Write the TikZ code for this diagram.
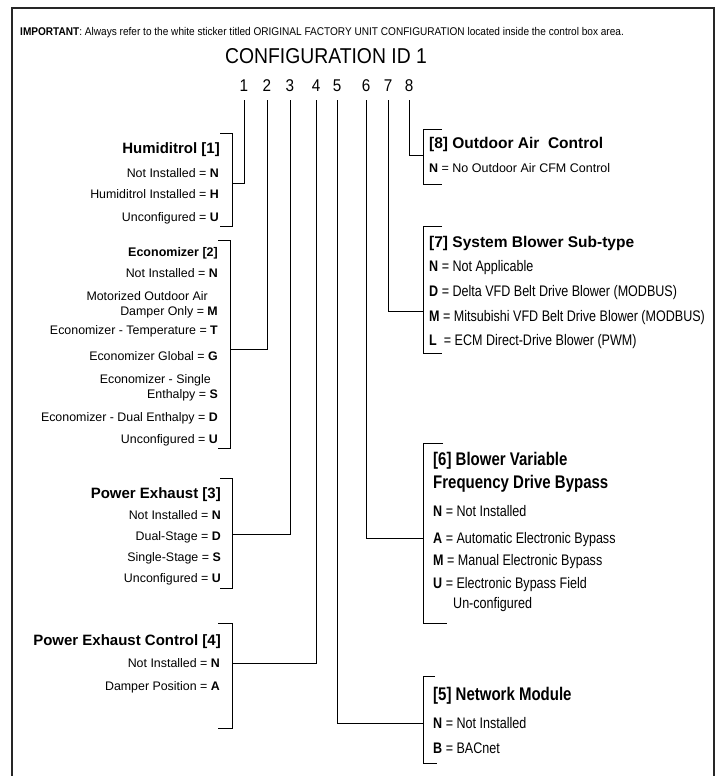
\documentclass[tikz,border=0pt]{standalone}
\usepackage{fontspec}
\setmainfont{Liberation Sans}
\newfontfamily\narrowfont[FakeStretch=0.82]{Liberation Sans}
\newfontfamily\titlefont[FakeStretch=0.9]{Liberation Sans}
\newcommand\fsz[1]{\fontsize{#1}{#1}\selectfont}
\tikzset{
 base/.style={inner sep=0pt, text depth=0pt},
 litem/.style={base, anchor=east, font=\fsz{12.4}, text height=8.9pt},
 lhead/.style={base, anchor=east, font=\bfseries\fsz{15}, text height=10.7pt},
 ehead/.style={base, anchor=east, font=\bfseries\fsz{12.5}, text height=9pt},
 rhead/.style={base, anchor=west, font=\bfseries\fsz{15.5}, text height=11.1pt},
 ritem/.style={base, anchor=west, font=\fsz{12.5}, text height=9pt},
 nitem/.style={base, anchor=west, font=\narrowfont\fsz{15.3}, text height=11pt},
 nhead/.style={base, anchor=west, font=\narrowfont\bfseries\fsz{18.3}, text height=13.1pt},
 digit/.style={base, anchor=south, font=\titlefont\fsz{17}},
 conn/.style={draw=black, line width=1pt},
 brk/.style={draw=black, line width=1pt},
 frame/.style={draw=black!85, line width=1.5pt},
}
\begin{document}
\begin{tikzpicture}[x=1pt,y=-1pt]
\useasboundingbox (0,0) rectangle (717,776);
\fill[white] (0,0) rectangle (717,776);
% outer frame
\draw[frame] (12,776) -- (12,8) -- (714,8) -- (714,776);
% header
\node[base, anchor=west, font=\titlefont\fsz{11.2}, text height=8pt] (imp) at (20,32)
  {\textbf{IMPORTANT}: Always refer to the white sticker titled ORIGINAL FACTORY UNIT CONFIGURATION located inside the control box area.};
\node[base, font=\titlefont\fsz{21.5}, text height=15.4pt] (title) at (326,55.5) {CONFIGURATION ID 1};
% digits
\node[digit] (d1) at (244,92) {1};
\node[digit] (d2) at (267,92) {2};
\node[digit] (d3) at (290,92) {3};
\node[digit] (d4) at (316,92) {4};
\node[digit] (d5) at (337,92) {5};
\node[digit] (d6) at (366,92) {6};
\node[digit] (d7) at (388,92) {7};
\node[digit] (d8) at (409,92) {8};
% junctions
\coordinate (b1) at (232,183);
\coordinate (b2) at (230,349);
\coordinate (b3) at (232,534);
\coordinate (b4) at (232,663);
\coordinate (b5) at (423,723);
\coordinate (b6) at (423,538);
\coordinate (b7) at (423,311);
\coordinate (b8) at (423,155);
% connectors
\draw[conn] (d1.south) ++(0,8) |- (b1);
\draw[conn] (d2.south) ++(0,8) |- (b2);
\draw[conn] (d3.south) ++(0,8) |- (b3);
\draw[conn] (d4.south) ++(0,8) |- (b4);
\draw[conn] (d5.south) ++(0,8) |- (b5);
\draw[conn] (d6.south) ++(0,8) |- (b6);
\draw[conn] (d7.south) ++(0,8) |- (b7);
\draw[conn] (d8.south) ++(0,8) |- (b8);
% brackets left
\draw[brk] (220,133) -- (232,133) -- (232,226) -- (220,226);
\draw[brk] (218,240) -- (230,240) -- (230,448) -- (218,448);
\draw[brk] (220,478) -- (232,478) -- (232,588) -- (220,588);
\draw[brk] (218,623) -- (232,623) -- (232,728) -- (218,728);
% brackets right
\draw[brk] (442,129) -- (423,129) -- (423,184) -- (442,184);
\draw[brk] (442,226) -- (423,226) -- (423,353) -- (442,353);
\draw[brk] (443,443) -- (423,443) -- (423,623) -- (447,623);
\draw[brk] (435,676) -- (423,676) -- (423,763) -- (437,763);
% Humiditrol
\node[lhead] (h0) at (220,148) {Humiditrol [1]};
\node[litem] (h1) at (219,173) {Not Installed = \textbf{N}};
\node[litem] (h2) at (219,194) {Humiditrol Installed = \textbf{H}};
\node[litem] (h3) at (219,217) {Unconfigured = \textbf{U}};
% Economizer
\node[ehead] (e0) at (218,252) {Economizer [2]};
\node[litem] (e1) at (218,273) {Not Installed = \textbf{N}};
\node[litem] (e2a) at (208,296) {Motorized Outdoor Air};
\node[litem] (e2b) at (218,311) {Damper Only = \textbf{M}};
\node[litem] (e3) at (218,330) {Economizer - Temperature = \textbf{T}};
\node[litem] (e4) at (218,356) {Economizer Global = \textbf{G}};
\node[litem] (e5a) at (211,379) {Economizer - Single};
\node[litem] (e5b) at (218,394) {Enthalpy = \textbf{S}};
\node[litem] (e6) at (218,417) {Economizer - Dual Enthalpy = \textbf{D}};
\node[litem] (e7) at (218,439) {Unconfigured = \textbf{U}};
% Power Exhaust
\node[lhead] (p0) at (221,493) {Power Exhaust [3]};
\node[litem] (p1) at (221,515) {Not Installed = \textbf{N}};
\node[litem] (p2) at (221,536) {Dual-Stage = \textbf{D}};
\node[litem] (p3) at (221,557) {Single-Stage = \textbf{S}};
\node[litem] (p4) at (221,578) {Unconfigured = \textbf{U}};
% Power Exhaust Control
\node[lhead] (c0) at (221,640) {Power Exhaust Control [4]};
\node[litem] (c1) at (220,663) {Not Installed = \textbf{N}};
\node[litem] (c2) at (220,686) {Damper Position = \textbf{A}};
% [8]
\node[rhead] (o0) at (429,143) {[8] Outdoor Air\ \ Control};
\node[ritem] (o1) at (429,168) {\textbf{N} = No Outdoor Air CFM Control};
% [7]
\node[rhead] (s0) at (429,242) {[7] System Blower Sub-type};
\node[nitem] (s1) at (429,266) {\textbf{N} = Not Applicable};
\node[nitem] (s2) at (429,291) {\textbf{D} = Delta VFD Belt Drive Blower (MODBUS)};
\node[nitem] (s3) at (429,316) {\textbf{M} =\ Mitsubishi VFD Belt Drive Blower (MODBUS)};
\node[nitem] (s4) at (429,340) {\textbf{L}\ \ = ECM Direct-Drive Blower (PWM)};
% [6]
\node[nhead] (v0) at (433,459) {[6] Blower Variable};
\node[nhead] (v0b) at (433,482) {Frequency Drive Bypass};
\node[nitem] (v1) at (433,511) {\textbf{N} = Not Installed};
\node[nitem] (v2) at (433,538) {\textbf{A} = Automatic Electronic Bypass};
\node[nitem] (v3) at (433,560) {\textbf{M} = Manual Electronic Bypass};
\node[nitem] (v4) at (433,583) {\textbf{U} = Electronic Bypass Field};
\node[nitem] (v4b) at (453,603) {Un-configured};
% [5]
\node[nhead] (n0) at (433,694) {[5] Network Module};
\node[nitem] (n1) at (433,723) {\textbf{N} = Not Installed};
\node[nitem] (n2) at (433,748) {\textbf{B} = BACnet};
\end{tikzpicture}
\end{document}
